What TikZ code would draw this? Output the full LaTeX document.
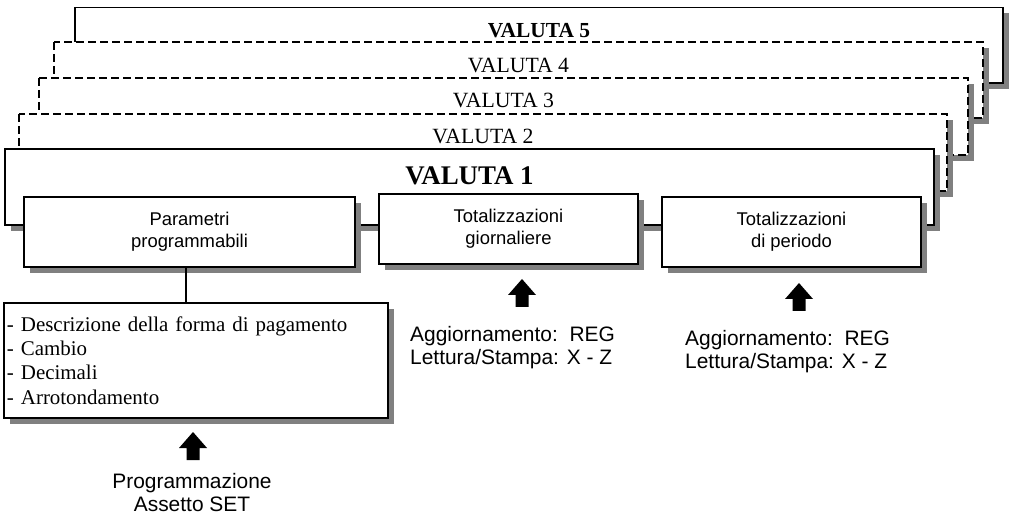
\documentclass[tikz,border=0pt]{standalone}
\usepackage{fontspec}
\setmainfont{Liberation Serif}
\newfontfamily\helv{Liberation Sans}

\tikzset{
    shadowed/.style = {preaction = {fill = black!50, transform canvas = {xshift = 6bp, yshift = -6bp}}},
    valbox/.style = {draw, fill = white, line width = 1.8bp, shadowed},
    valdash/.style = {valbox, line width = 1.5bp, dash pattern = on 8bp off 4bp},
    vallabel/.style = {anchor = base, inner sep = 0pt, font = \fontsize{21.8}{25}\selectfont},
    totbox/.style = {draw, fill = white, line width = 1.8bp, shadowed, inner sep = 0pt,
        minimum height = 70bp, align = center, font = \helv\fontsize{18.5}{22}\selectfont},
    notetext/.style = {inner sep = 0pt, font = \helv\fontsize{21}{23.5}\selectfont},
    blockup/.pic = {
        \fill (0, 0) -- (14, 16) -- (6.5, 16) -- (6.5, 28) -- (-6.5, 28) -- (-6.5, 16) -- (-14, 16) -- cycle;
    }
}

\begin{document}
\begin{tikzpicture}[x = 1bp, y = -1bp]
    \useasboundingbox (0, 0) rectangle (1012, 515);
        \draw[valbox]
            (75, 7.5) rectangle (1003, 83);
        \node (val5) at (539, 38) [vallabel, font = \bfseries\fontsize{21.5}{25}\selectfont] {VALUTA 5};
        \draw[valdash]
            (54, 42) rectangle (983, 118);
        \node (val4) at (518.5, 73) [vallabel] {VALUTA 4};
        \draw[valdash]
            (39, 78) rectangle (968, 155);
        \node (val3) at (503.5, 108) [vallabel] {VALUTA 3};
        \draw[valdash]
            (19, 114) rectangle (947, 191);
        \node (val2) at (483, 144) [vallabel] {VALUTA 2};
        \draw[valbox]
            (5, 149) rectangle (934, 225);
        \node (val1) at (469.5, 185) [vallabel, font = \bfseries\fontsize{27}{30}\selectfont] {VALUTA 1};
            \node (param) at (189.5, 232) [totbox, minimum width = 331bp] {Parametri \\ programmabili};
            \node (giorno) at (508.5, 229) [totbox, minimum width = 259bp] {Totalizzazioni \\ giornaliere};
            \node (periodo) at (791.5, 232) [totbox, minimum width = 259bp] {Totalizzazioni \\ di periodo};
    \node (descr) at (196, 360.5) [draw, fill = white, line width = 2bp, shadowed,
        text width = 378bp, inner xsep = 3bp, inner ysep = 0pt, minimum height = 115bp,
        align = left, font = \fontsize{21}{24.3}\selectfont] {
            - Descrizione della forma di pagamento \\
            - Cambio \\
            - Decimali \\
            - Arrotondamento
        };
    \draw[line width = 1.5bp]
        ([xshift = -3.5bp]param.south) -- ([xshift = -3.5bp]param.south |- descr.north);
    % inputs
    \pic at (522, 279) {blockup};
    \node (agggiorno) at (410, 325.7) [notetext, anchor = north west, align = left]
        {Aggiornamento:~~REG \\ Lettura/Stampa: X - Z};
    \pic at (799, 283) {blockup};
    \node (aggperiodo) at (685, 329.7) [notetext, anchor = north west, align = left]
        {Aggiornamento:~~REG \\ Lettura/Stampa: X - Z};
    \pic at (193, 432) {blockup};
    \node (progr) at (192, 472.8) [notetext, anchor = north, align = center]
        {Programmazione \\ Assetto SET};
\end{tikzpicture}
\end{document}
